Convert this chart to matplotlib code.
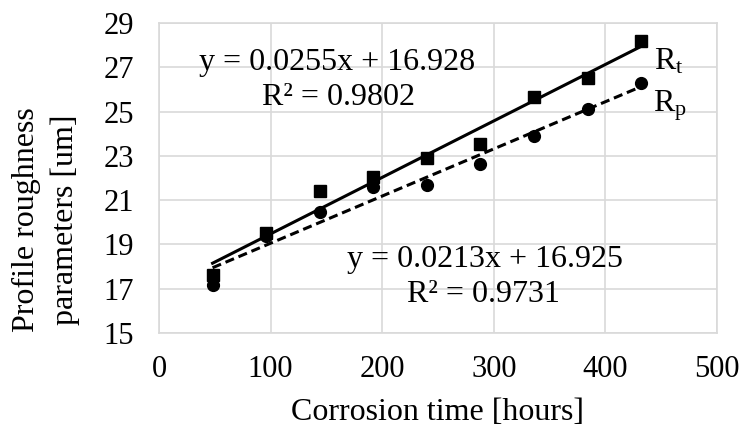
import matplotlib
matplotlib.use("Agg")
import matplotlib.pyplot as plt
import numpy as np

plt.rcParams['font.family'] = ['Liberation Serif', 'DejaVu Serif']
plt.rcParams['mathtext.fontset'] = 'custom'
plt.rcParams['mathtext.rm'] = 'Liberation Serif'
plt.rcParams['mathtext.it'] = 'Liberation Serif:italic'

# data
hours = [48, 96, 144, 192, 240, 288, 336, 384, 432]
rt = [17.6, 19.5, 21.4, 22.06, 22.9, 23.54, 25.68, 26.5, 28.2]
rp = [17.16, 19.4, 20.48, 21.58, 21.68, 22.62, 23.9, 25.1, 26.31]

# trend line coefficients as printed on the chart
rt_fit = [0.0255, 16.928]
rp_fit = [0.0213, 16.925]
rt_eq = ["y = 0.0255x + 16.928", "R² = 0.9802"]
rp_eq = ["y = 0.0213x + 16.925", "R² = 0.9731"]

fig = plt.figure(figsize=(7.43, 4.34), dpi=100)
ax = fig.add_axes([0.214, 0.2327, 0.751, 0.7143])

x = np.array(hours)
xl = np.array([x.min(), x.max()])
ax.plot(xl, np.polyval(rt_fit, xl), color='black', lw=2.2, zorder=3)
ax.plot(xl, np.polyval(rp_fit, xl), color='black', lw=2.2, ls=(0, (3, 1.6)), zorder=3)
ax.plot(hours, rt, 's', color='black', ms=8, zorder=4)
ax.plot(hours, rp, 'o', color='black', ms=8.5, zorder=4)

fs = 22
fl = 23
ax.text(160, 27.2, rt_eq[0], ha='center', va='center', fontsize=fl)
ax.text(161, 25.62, rt_eq[1], ha='center', va='center', fontsize=fl)
ax.text(292, 18.3, rp_eq[0], ha='center', va='center', fontsize=fl)
ax.text(291, 16.72, rp_eq[1], ha='center', va='center', fontsize=fl)
ax.text(444, 27.25, r'R$_\mathrm{t}$', ha='left', va='center', fontsize=fl)
ax.text(443, 25.25, r'R$_\mathrm{p}$', ha='left', va='center', fontsize=fl)

ax.set_xlim(0, 500)
ax.set_ylim(15, 29)
ax.set_xticks(range(0, 501, 100))
ax.set_yticks(range(15, 30, 2))
ax.tick_params(length=0, labelsize=fs)
ax.tick_params(axis='y', pad=18)
ax.tick_params(axis='x', pad=16)
ax.grid(True, color='#d9d9d9', lw=1.2)
ax.set_axisbelow(True)
for s in ax.spines.values():
    s.set_color('#d9d9d9')
    s.set_linewidth(1.2)

ax.set_xlabel("Corrosion time [hours]", fontsize=fl, labelpad=10)
ax.set_ylabel("Profile roughness\nparameters [um]", fontsize=fl, linespacing=1.4)
ax.yaxis.set_label_coords(-0.142, 0.365)

fig.savefig("out.png", dpi=100)
